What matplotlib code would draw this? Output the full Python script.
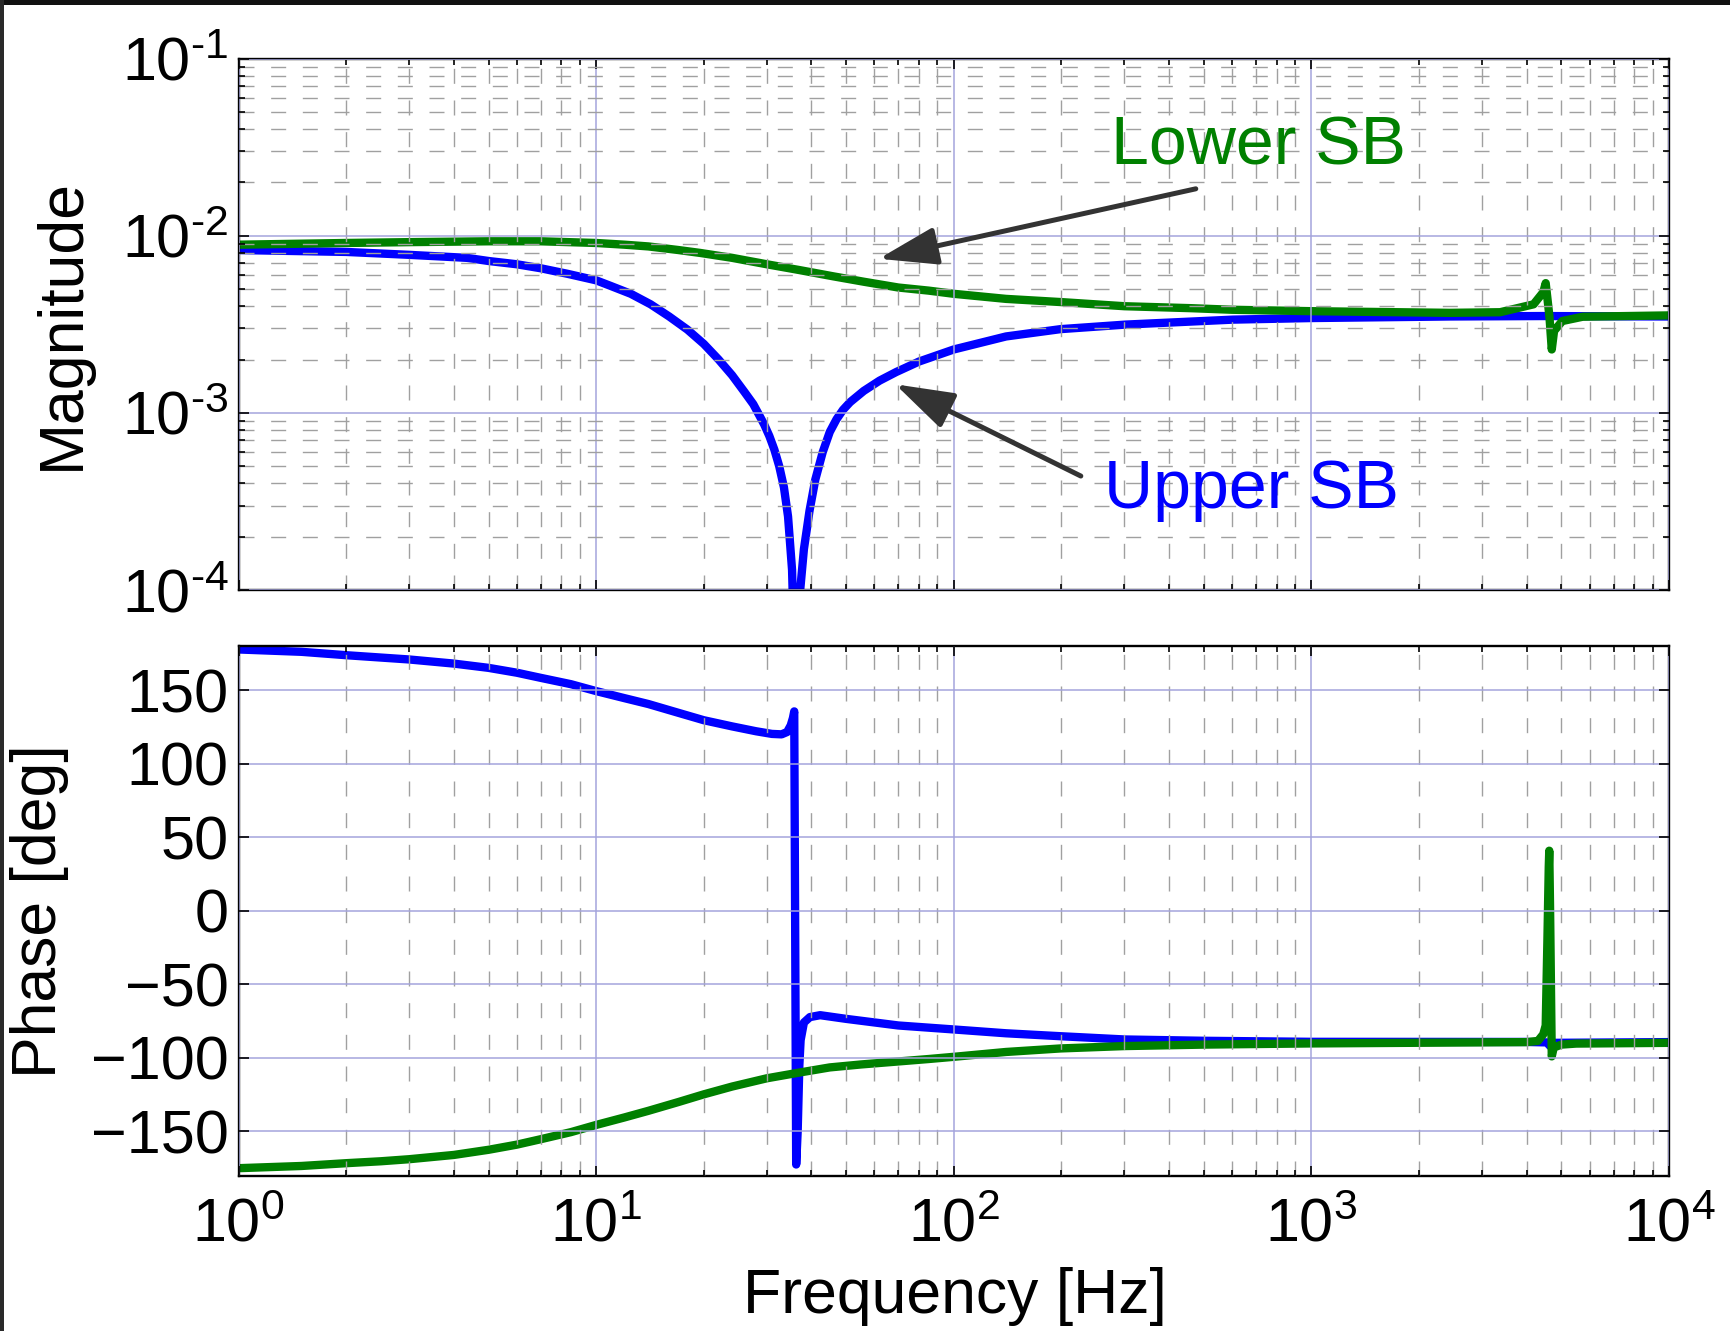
import numpy as np
import matplotlib
matplotlib.use('Agg')
import matplotlib.pyplot as plt
from matplotlib.patches import Rectangle
from matplotlib.ticker import LogLocator, FixedLocator, FuncFormatter

# Upper sideband magnitude
upper_mag_freq = [1, 2, 3, 4.35, 5, 6, 7, 8.3, 10, 11, 12.5, 14.2, 16, 18, 20, 22, 24,
                  26, 27.5, 28.5, 29.5, 30.5, 31.5, 32.5, 33.5, 34.4, 35.3, 36.2, 37.2,
                  38.1, 39.5, 41, 43, 45, 47, 49, 51.3, 56, 62, 69, 80, 100, 140, 199,
                  302, 603, 1000, 2440, 4400, 10000]
upper_mag = [0.0083, 0.0081, 0.0078, 0.0075, 0.0072, 0.0069, 0.00655, 0.0061, 0.0056,
             0.0052, 0.0047, 0.0041, 0.0035, 0.00295, 0.00245, 0.002, 0.00163, 0.00131,
             0.00112, 0.00098, 0.00086, 0.00074, 0.00062, 0.0005, 0.00038, 0.00026,
             0.00013, 0.00002, 0.0001, 0.00017, 0.00028, 0.00042, 0.0006, 0.00078,
             0.00092, 0.00104, 0.00115, 0.00133, 0.00152, 0.0017, 0.00195, 0.00228,
             0.0027, 0.00297, 0.00315, 0.00336, 0.00343, 0.0035, 0.00352, 0.0035]

# Lower sideband magnitude
lower_mag_freq = [1, 2, 3, 5, 7, 10, 12, 14, 17, 19.5, 24, 30, 37, 46, 56, 70, 85, 100,
                  140, 200, 300, 460, 600, 1000, 2440, 3370, 4180, 4450, 4520, 4630,
                  4700, 4770, 5030, 5740, 10000]
lower_mag = [0.0089, 0.0091, 0.0092, 0.0093, 0.0093, 0.0091, 0.0089, 0.0087, 0.0083,
             0.0080, 0.0075, 0.0069, 0.0064, 0.0059, 0.0055, 0.0051, 0.0049, 0.0047,
             0.0044, 0.00422, 0.0040, 0.0039, 0.00382, 0.00375, 0.00367, 0.0037,
             0.0041, 0.0048, 0.0054, 0.0035, 0.00228, 0.0029, 0.0033, 0.00349, 0.00355]

# Upper sideband phase [deg]
upper_phase_freq = [1, 1.5, 2, 3, 4, 5, 6, 7, 8.5, 10, 12, 14, 17, 20, 24, 28, 31, 33,
                    34.2, 35, 35.5, 35.8, 36.25, 36.6, 37.0, 37.3, 38.1, 39.6, 42.3, 50,
                    70, 100, 140, 199, 300, 500, 1000, 4000, 4550, 4650, 4800, 10000]
upper_phase = [177.6, 176, 173.7, 170.8, 168, 165.1, 161.8, 158.3, 154, 149.3, 144.5,
               140.5, 134.5, 129.5, 125.3, 122, 120.2, 119.9, 121.5, 126, 131, 135.5,
               -172.5, -150, -105, -88, -76, -72.3, -71, -73.5, -78, -80.7, -83.3,
               -85.3, -87.5, -88.4, -89.1, -89.2, -89.5, -92, -89.8, -89.3]

# Lower sideband phase [deg]
lower_phase_freq = [1, 1.5, 2, 2.5, 3, 4, 5, 6, 7, 8.5, 10, 12, 14, 17, 20, 24, 30, 37,
                    45, 55, 68, 85, 100, 140, 199, 300, 500, 1000, 4000, 4300, 4450,
                    4520, 4570, 4610, 4625, 4650, 4680, 4700, 4760, 5000, 5500, 10000]
lower_phase = [-175, -173.5, -171.6, -170.3, -168.9, -166, -162.5, -159, -155.3, -150.5,
               -145.6, -140.5, -136, -130, -124.8, -119.5, -113.9, -110, -106.5, -104.5,
               -102.7, -100.8, -99.3, -96, -93.6, -92, -91, -90.2, -89.3, -88.5, -84,
               -78, -20, 30, 40.8, 0, -60, -99, -93, -91, -90.3, -89.8]

phase_ticks = [-150, -100, -50, 0, 50, 100, 150]

GREEN = '#008000'
BLUE = '#0000ff'
MAJOR_GRID = '#a4a4dc'
MINOR_GRID = '#a0a0a0'


def pow10(v, pos):
    e = int(round(np.log10(v)))
    if e < 0:
        return r'$10^{\text{-%d}}$' % (-e)
    return r'$10^{%d}$' % e


def style_axes(ax, log_y):
    ax.set_axisbelow(False)
    ax.set_xscale('log')
    ax.set_xlim(1, 1e4)
    ax.xaxis.set_major_locator(LogLocator(base=10, numticks=10))
    ax.xaxis.set_minor_locator(LogLocator(base=10, subs=range(2, 10), numticks=10))
    ax.xaxis.set_major_formatter(FuncFormatter(pow10))
    ax.grid(which='major', color=MAJOR_GRID, lw=1.1, ls='-')
    if log_y:
        ax.grid(which='minor', color=MINOR_GRID, lw=1.0, ls=(0, (10.8, 12)))
    else:
        ax.grid(which='minor', axis='x', color=MINOR_GRID, lw=1.0, ls=(0, (10.8, 12)))
    ax.tick_params(which='both', direction='in', top=True, right=True,
                   labelsize=44, width=1.2)
    ax.tick_params(which='major', length=7)
    ax.tick_params(which='minor', length=4)
    ax.tick_params(axis='y', pad=7)
    ax.tick_params(axis='x', pad=16)
    for sp in ax.spines.values():
        sp.set_linewidth(1.7)


def main():
    plt.rcParams['font.family'] = ['Liberation Sans', 'DejaVu Sans']
    plt.rcParams['mathtext.fontset'] = 'custom'
    plt.rcParams['mathtext.rm'] = 'Liberation Sans'
    plt.rcParams['mathtext.it'] = 'Liberation Sans:italic'
    plt.rcParams['mathtext.bf'] = 'Liberation Sans:bold'
    plt.rcParams['axes.unicode_minus'] = True

    fig = plt.figure(figsize=(17.31, 13.31), dpi=100)
    ax1 = fig.add_axes([0.1378, 0.5567, 0.8264, 0.3993])
    ax2 = fig.add_axes([0.1378, 0.1168, 0.8264, 0.3979])

    # Magnitude
    ax1.plot(upper_mag_freq, upper_mag, color=BLUE, lw=6, solid_joinstyle='round')
    ax1.plot(lower_mag_freq, lower_mag, color=GREEN, lw=6, solid_joinstyle='round')
    ax1.set_yscale('log')
    ax1.set_ylim(1e-4, 1e-1)
    ax1.yaxis.set_major_locator(LogLocator(base=10, numticks=10))
    ax1.yaxis.set_minor_locator(LogLocator(base=10, subs=range(2, 10), numticks=10))
    ax1.yaxis.set_major_formatter(FuncFormatter(pow10))
    style_axes(ax1, True)
    ax1.tick_params(axis='x', labelbottom=False)
    ax1.set_ylabel('Magnitude', fontsize=45)
    ax1.yaxis.set_label_coords(-0.1024, 0.5)

    arrow = dict(arrowstyle='-|>,head_length=1.8,head_width=0.58', color='#333333',
                 lw=3.6, shrinkA=0, shrinkB=0, mutation_scale=20)
    ax1.annotate('', xy=(61.7, 0.00741), xytext=(475, 0.0184), arrowprops=arrow)
    ax1.annotate('', xy=(68.6, 0.00145), xytext=(226.6, 0.00044), arrowprops=arrow)
    ax1.text(276, 0.0251, 'Lower SB', color=GREEN, fontsize=49,
             ha='left', va='baseline')
    ax1.text(263, 0.000291, 'Upper SB', color=BLUE, fontsize=49,
             ha='left', va='baseline')

    # Phase
    ax2.plot(upper_phase_freq, upper_phase, color=BLUE, lw=6, solid_joinstyle='round')
    ax2.plot(lower_phase_freq, lower_phase, color=GREEN, lw=6, solid_joinstyle='round')
    ax2.set_ylim(-180, 180)
    ax2.yaxis.set_major_locator(FixedLocator(phase_ticks))
    style_axes(ax2, False)
    ax2.set_ylabel('Phase [deg]', fontsize=45)
    ax2.yaxis.set_label_coords(-0.1188, 0.5)
    ax2.set_xlabel('Frequency [Hz]', fontsize=45)
    ax2.xaxis.set_label_coords(0.501, -0.172)

    # dark screenshot frame on top and left
    fig.add_artist(Rectangle((0, 1 - 5 / 1331), 1, 5 / 1331, transform=fig.transFigure,
                             color='#111111', lw=0))
    fig.add_artist(Rectangle((0, 0), 4 / 1731, 1, transform=fig.transFigure,
                             color='#2a2a2a', lw=0))

    fig.savefig('out.png', dpi=100, facecolor='white')


if __name__ == "__main__":
    main()
